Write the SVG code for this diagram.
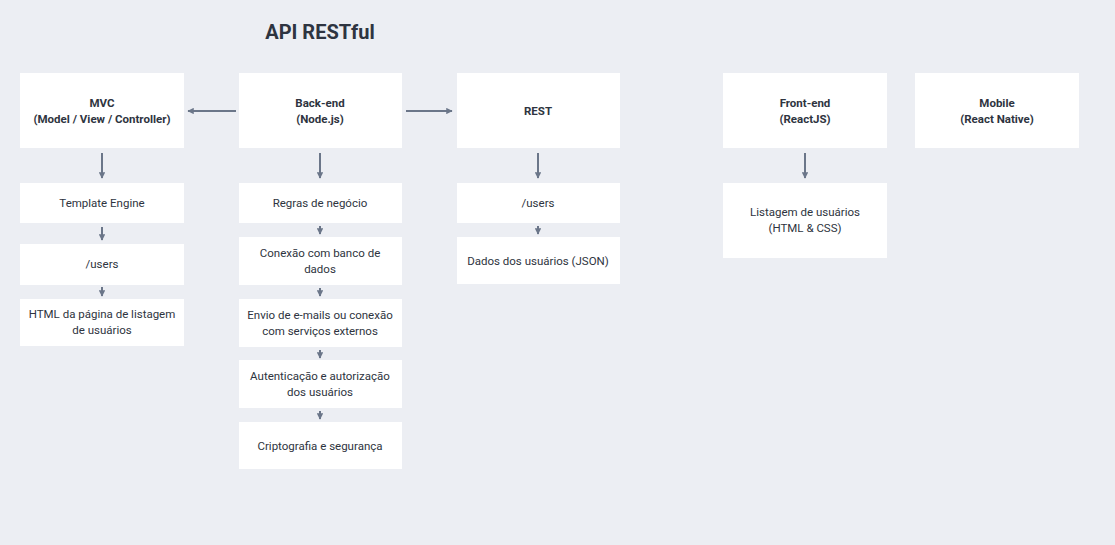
<svg xmlns="http://www.w3.org/2000/svg" width="1115" height="545" viewBox="0 0 1115 545">
<defs>
<marker id="ah" viewBox="0 0 10 10" refX="9" refY="5" markerWidth="3.2" markerHeight="3.2" orient="auto">
<path d="M0,0 L10,5 L0,10 z" fill="#6b7689"/>
</marker>
<style>
.box{fill:#ffffff;}
.t{font-family:Roboto,"Liberation Sans",sans-serif;font-size:11.5px;fill:#2e3440;text-anchor:middle;}
.b{font-weight:bold;}
.c{stroke:#6b7689;stroke-width:2;fill:none;marker-end:url(#ah);}
</style>
</defs>
<rect width="1115" height="545" fill="#eceef3"/>
<text x="320" y="39" font-family="Roboto,'Liberation Sans',sans-serif" font-size="20" font-weight="bold" fill="#2e3440" text-anchor="middle">API RESTful</text>

<g id="connectors">
<line class="c" x1="236" y1="111" x2="188" y2="111"/>
<line class="c" x1="406" y1="111" x2="452" y2="111"/>
<line class="c" x1="102" y1="153" x2="102" y2="178"/>
<line class="c" x1="320" y1="153" x2="320" y2="178"/>
<line class="c" x1="538" y1="153" x2="538" y2="178"/>
<line class="c" x1="805" y1="153" x2="805" y2="178"/>
<line class="c" x1="102" y1="227" x2="102" y2="240"/>
<line class="c" x1="102" y1="287" x2="102" y2="296"/>
<line class="c" x1="320" y1="226" x2="320" y2="234"/>
<line class="c" x1="320" y1="288" x2="320" y2="296"/>
<line class="c" x1="320" y1="350" x2="320" y2="358"/>
<line class="c" x1="320" y1="411" x2="320" y2="419"/>
<line class="c" x1="538" y1="226" x2="538" y2="234"/>
</g>

<g id="mvc"><rect class="box" x="20" y="73" width="164" height="75"/>
<text class="t b" x="102" y="107">MVC</text><text class="t b" x="102" y="123">(Model / View / Controller)</text></g>
<g id="backend"><rect class="box" x="239" y="73" width="163" height="75"/>
<text class="t b" x="320" y="107">Back-end</text><text class="t b" x="320" y="123">(Node.js)</text></g>
<g id="rest"><rect class="box" x="457" y="73" width="163" height="75"/>
<text class="t b" x="538" y="115">REST</text></g>
<g id="frontend"><rect class="box" x="723" y="73" width="164" height="75"/>
<text class="t b" x="805" y="107">Front-end</text><text class="t b" x="805" y="123">(ReactJS)</text></g>
<g id="mobile"><rect class="box" x="915" y="73" width="164" height="75"/>
<text class="t b" x="997" y="107">Mobile</text><text class="t b" x="997" y="123">(React Native)</text></g>

<g id="template"><rect class="box" x="20" y="183" width="164" height="40"/>
<text class="t" x="102" y="207">Template Engine</text></g>
<g id="users1"><rect class="box" x="20" y="244" width="164" height="41"/>
<text class="t" x="102" y="268">/users</text></g>
<g id="html"><rect class="box" x="20" y="299" width="164" height="47"/>
<text class="t" x="102" y="318">HTML da página de listagem</text><text class="t" x="102" y="334">de usuários</text></g>

<g id="regras"><rect class="box" x="239" y="183" width="163" height="40"/>
<text class="t" x="320" y="207">Regras de negócio</text></g>
<g id="conexao"><rect class="box" x="239" y="237" width="163" height="48"/>
<text class="t" x="320" y="257">Conexão com banco de</text><text class="t" x="320" y="273">dados</text></g>
<g id="envio"><rect class="box" x="239" y="299" width="163" height="48"/>
<text class="t" x="320" y="319">Envio de e-mails ou conexão</text><text class="t" x="320" y="335">com serviços externos</text></g>
<g id="auth"><rect class="box" x="239" y="360" width="163" height="48"/>
<text class="t" x="320" y="380">Autenticação e autorização</text><text class="t" x="320" y="396">dos usuários</text></g>
<g id="cripto"><rect class="box" x="239" y="422" width="163" height="47"/>
<text class="t" x="320" y="450">Criptografia e segurança</text></g>

<g id="users2"><rect class="box" x="457" y="183" width="163" height="40"/>
<text class="t" x="538" y="207">/users</text></g>
<g id="dados"><rect class="box" x="457" y="237" width="163" height="47"/>
<text class="t" x="538" y="265">Dados dos usuários (JSON)</text></g>

<g id="listagem"><rect class="box" x="723" y="183" width="164" height="75"/>
<text class="t" x="805" y="216">Listagem de usuários</text><text class="t" x="805" y="232">(HTML &amp; CSS)</text></g>
</svg>
